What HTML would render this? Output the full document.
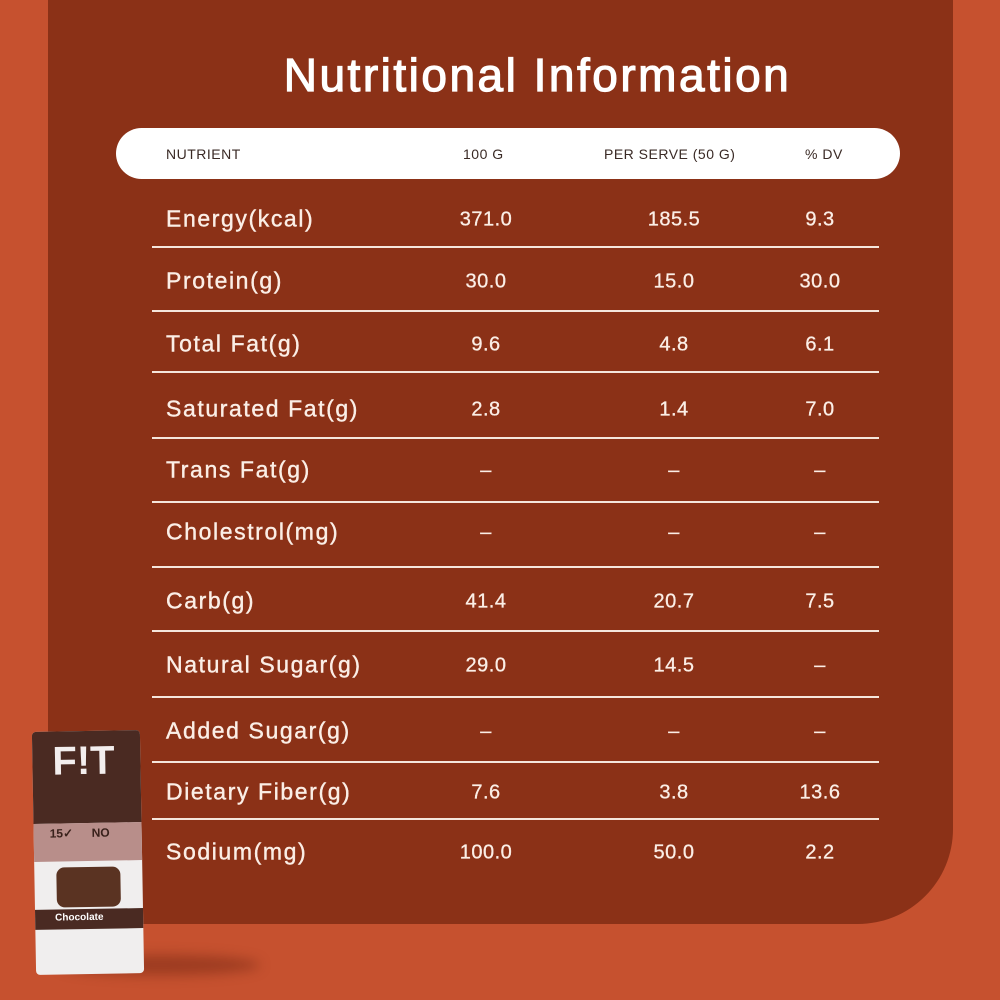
<!DOCTYPE html>
<html><head><meta charset="utf-8"><style>
body{margin:0;width:1000px;height:1000px;background:#c6512f;position:relative;overflow:hidden;font-family:"Liberation Sans",sans-serif;color:#fbeee6}
.panel{position:absolute;left:48px;top:0;width:905px;height:924px;background:#8b3117;border-bottom-right-radius:95px}
.t{position:absolute;white-space:nowrap}
h1{position:absolute;left:0;width:1075px;text-align:center;top:48px;margin:0;font-size:46px;font-weight:normal;letter-spacing:2.5px;color:#fff;-webkit-text-stroke:1.2px #fff}
.pill{position:absolute;left:116px;top:128px;width:784px;height:51px;border-radius:26px;background:#fff}
.h{position:absolute;top:146px;font-size:14px;color:#3a2a25;letter-spacing:.5px}
.line{position:absolute;left:152px;width:727px;height:2px;background:#f5e6dc}
.lab{position:absolute;left:166px;font-size:23px;letter-spacing:1.6px;transform:translateY(-50%);-webkit-text-stroke:0.4px #fbeee6;white-space:nowrap}
.v{position:absolute;font-size:20px;transform:translate(-50%,-50%);letter-spacing:.5px;-webkit-text-stroke:0.3px #fbeee6}
</style></head><body>
<div class="panel"></div>
<h1>Nutritional Information</h1>
<div class="pill"></div>
<div class="h" style="left:166px">NUTRIENT</div>
<div class="h" style="left:463px">100 G</div>
<div class="h" style="left:604px">PER SERVE (50 G)</div>
<div class="h" style="left:805px">% DV</div>
<div class="line" style="top:246px"></div>
<div class="line" style="top:310px"></div>
<div class="line" style="top:371px"></div>
<div class="line" style="top:437px"></div>
<div class="line" style="top:501px"></div>
<div class="line" style="top:566px"></div>
<div class="line" style="top:630px"></div>
<div class="line" style="top:696px"></div>
<div class="line" style="top:761px"></div>
<div class="line" style="top:818px"></div>
<div id="rows"></div>
<script>
var d=[["Energy(kcal)","371.0","185.5","9.3",219],["Protein(g)","30.0","15.0","30.0",281],["Total Fat(g)","9.6","4.8","6.1",344],["Saturated Fat(g)","2.8","1.4","7.0",409],["Trans Fat(g)","–","–","–",470],["Cholestrol(mg)","–","–","–",532],["Carb(g)","41.4","20.7","7.5",601],["Natural Sugar(g)","29.0","14.5","–",665],["Added Sugar(g)","–","–","–",731],["Dietary Fiber(g)","7.6","3.8","13.6",792],["Sodium(mg)","100.0","50.0","2.2",852]];
var h="";d.forEach(function(r){h+='<div class="lab" style="top:'+r[4]+'px">'+r[0]+'</div><div class="v" style="left:486px;top:'+(r[4]+1)+'px">'+r[1]+'</div><div class="v" style="left:674px;top:'+(r[4]+1)+'px">'+r[2]+'</div><div class="v" style="left:820px;top:'+(r[4]+1)+'px">'+r[3]+'</div>';});
document.getElementById("rows").innerHTML=h;
</script>
<div style="position:absolute;left:60px;top:955px;width:200px;height:20px;border-radius:50%;background:rgba(80,20,5,.35);filter:blur(6px)"></div>
<div style="position:absolute;left:34px;top:731px;width:108px;height:243px;background:#f0eeee;border-radius:4px;transform:rotate(-1deg)">
<div style="position:absolute;left:0;top:0;width:108px;height:92px;background:#4a2a22;border-radius:4px 4px 0 0"></div>
<div class="t" style="left:20px;top:8px;font-size:40px;font-weight:bold;color:#f3eeee">F!T</div>
<div style="position:absolute;left:0;top:92px;width:108px;height:38px;background:#b88e8a"></div>
<div class="t" style="left:16px;top:95px;font-size:12px;font-weight:bold;color:#3a221c">15✓</div>
<div class="t" style="left:58px;top:95px;font-size:12px;font-weight:bold;color:#3a221c">NO</div>
<div style="position:absolute;left:22px;top:136px;width:64px;height:40px;background:#5a3322;border-radius:8px"></div>
<div style="position:absolute;left:0;top:178px;width:108px;height:20px;background:#4a2a22"></div>
<div class="t" style="left:20px;top:181px;font-size:10px;font-weight:bold;color:#fff">Chocolate</div>
</div>
</body></html>
